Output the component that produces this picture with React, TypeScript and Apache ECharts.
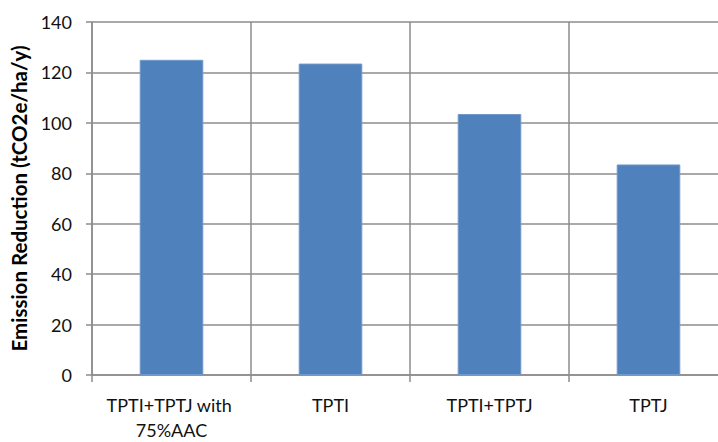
import React, { useEffect, useRef } from "react";
import * as echarts from "echarts";

// Emission reduction per scenario
const categories = ["TPTI+TPTJ with 75%AAC", "TPTI", "TPTI+TPTJ", "TPTJ"];
const reductions = [125, 123.5, 103.5, 83.5];
const yTicks = { min: 0, max: 140, interval: 20 };
const yAxisTitle = "Emission Reduction (tCO2e/ha/y)";

const FONT = "Lato, 'Open Sans', sans-serif";
const GRID_COLOR = "#8c8c8c";
const BAR_COLOR = "#4f81bd";

export default function App() {
  const ref = useRef<HTMLDivElement>(null);

  useEffect(() => {
    if (!ref.current) return;
    const chart = echarts.init(ref.current, undefined, { renderer: "svg" });
    chart.setOption({
      animation: false,
      backgroundColor: "#ffffff",
      // the plot runs a little past the visible frame on the right
      grid: { left: 92, right: 0, top: 22, bottom: 61, containLabel: false },
      xAxis: {
        type: "category",
        data: categories,
        axisLine: { show: true, lineStyle: { color: GRID_COLOR, width: 1.5 } },
        axisTick: {
          show: true,
          interval: 0,
          alignWithLabel: false,
          length: 7,
          lineStyle: { color: GRID_COLOR, width: 1.5 },
        },
        splitLine: {
          show: true,
          interval: 0,
          lineStyle: { color: GRID_COLOR, width: 1.5 },
        },
        axisLabel: {
          interval: 0,
          margin: 17,
          color: "#111",
          fontFamily: FONT,
          fontSize: 18,
          lineHeight: 25,
          width: 150,
          overflow: "break",
          align: "center",
        },
      },
      yAxis: {
        type: "value",
        min: yTicks.min,
        max: yTicks.max,
        interval: yTicks.interval,
        name: yAxisTitle,
        nameLocation: "middle",
        nameGap: 57,
        nameTextStyle: {
          fontFamily: FONT,
          fontWeight: "bold",
          fontSize: 20.5,
          color: "#000",
        },
        axisLine: { show: true, lineStyle: { color: GRID_COLOR, width: 1.5 } },
        axisTick: { show: true, length: 6, lineStyle: { color: GRID_COLOR, width: 1.5 } },
        splitLine: { show: true, lineStyle: { color: GRID_COLOR, width: 1.5 } },
        axisLabel: {
          margin: 20,
          color: "#111",
          fontFamily: FONT,
          fontSize: 18,
        },
      },
      series: [
        {
          type: "bar",
          data: reductions,
          barWidth: "40%",
          itemStyle: { color: BAR_COLOR, borderColor: "#7098c9", borderWidth: 1 },
        },
      ],
    });
    return () => chart.dispose();
  }, []);

  return (
    <div
      style={{
        position: "fixed",
        left: 0,
        top: 0,
        width: 718,
        height: 442,
        overflow: "hidden",
        background: "#fff",
      }}
    >
      <div ref={ref} style={{ width: 728, height: 442 }} />
    </div>
  );
}
